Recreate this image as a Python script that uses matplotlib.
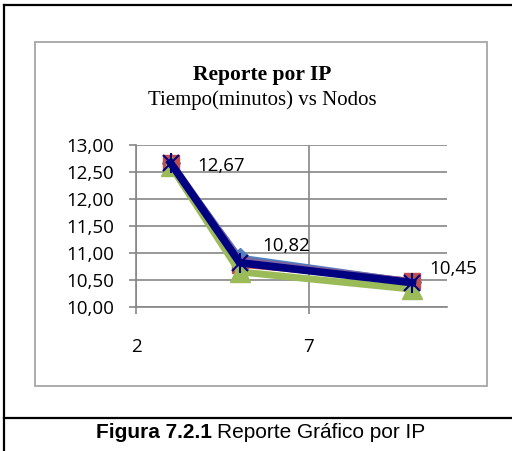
import matplotlib.pyplot as plt
from matplotlib.patches import Rectangle
from matplotlib.lines import Line2D

# Data: nodes vs time (minutes), several overlapping series
nodos = [3, 5, 10]
serie_azul = [12.67, 10.92, 10.47]
serie_roja = [12.67, 10.78, 10.49]
serie_verde = [12.62, 10.65, 10.33]
serie_morada = [12.67, 10.86, 10.46]
serie_navy = [12.67, 10.82, 10.45]
etiquetas = ["12,67", "10,82", "10,45"]

y_ticks = [10.0, 10.5, 11.0, 11.5, 12.0, 12.5, 13.0]
x_ticks = [2, 7]

fig = plt.figure(figsize=(5.12, 4.51), dpi=100)
W, H = 512, 451

def fx(px):
    return px / W

def fy(py):
    return 1 - py / H

# outer document box
fig.add_artist(Line2D([fx(4), fx(4)], [0, fy(5)], color="black", lw=1.6))
fig.add_artist(Line2D([fx(4), 1], [fy(5), fy(5)], color="black", lw=1.6))
fig.add_artist(Line2D([fx(4), 1], [fy(418), fy(418)], color="black", lw=1.6))

# chart frame
fig.add_artist(Rectangle((fx(35), fy(386)), fx(487) - fx(35), fy(42) - fy(386),
                         fill=False, edgecolor="#a6a6a6", lw=1.3))

fig.text(fx(262), fy(75), "Reporte por IP", family="Liberation Serif",
         weight="bold", fontsize=15.5, ha="center", va="center")
fig.text(fx(262), fy(100), "Tiempo(minutos) vs Nodos", family="Liberation Serif",
         fontsize=15, ha="center", va="center")

fig.text(fx(212), fy(433), "Figura 7.2.1", family="Liberation Sans", weight="bold",
         fontsize=15, ha="right", va="center")
fig.text(fx(217), fy(433), "Reporte Gráfico por IP", family="Liberation Sans",
         fontsize=15, ha="left", va="center")

ax = fig.add_axes([fx(136), fy(307), fx(447) - fx(136), fy(145) - fy(307)])
ax.set_xlim(2, 11)
ax.set_ylim(10, 13)
ax.set_yticks(y_ticks)
ax.set_yticklabels([f"{v:.2f}".replace(".", ",") for v in y_ticks])
ax.set_xticks(x_ticks)
ax.set_xticklabels([str(v) for v in x_ticks])
ax.grid(True, color="#868686", lw=1.2)
ax.set_axisbelow(True)
for s in ["top", "right"]:
    ax.spines[s].set_visible(False)
for s in ["left", "bottom"]:
    ax.spines[s].set_color("#868686")
    ax.spines[s].set_linewidth(1.2)
ax.tick_params(axis="both", colors="#868686", length=5, width=1.2,
               labelcolor="black", labelsize=13.5)
ax.tick_params(axis="x", pad=17)
ax.tick_params(axis="y", pad=11)
for lab in ax.get_xticklabels() + ax.get_yticklabels():
    lab.set_family("Open Sans")

ax.plot(nodos, serie_azul, color="#4F81BD", lw=4, marker="D", ms=9, clip_on=False)
ax.plot(nodos, serie_roja, color="#C0504D", lw=4, marker="s", ms=12, clip_on=False)
ax.plot(nodos, serie_verde, color="#9BBB59", lw=5, marker="^", ms=14, clip_on=False)
ax.plot(nodos, serie_morada, color="#8064A2", lw=5.5, clip_on=False)
ax.plot(nodos, serie_navy, color="#000080", lw=5.5, marker="x", ms=12, mew=1.5, clip_on=False)
ax.plot(nodos, serie_navy, color="#000080", lw=0, marker="|", ms=14, mew=1.5, clip_on=False)

offsets = [(19, -2), (16, 12), (12, 10)]
for xv, yv, t, off in zip(nodos, serie_navy, etiquetas, offsets):
    ax.annotate(t, (xv, yv), xytext=off, textcoords="offset points",
                fontsize=13.5, family="Open Sans", va="center", ha="left")

fig.savefig("out.png", dpi=100)
